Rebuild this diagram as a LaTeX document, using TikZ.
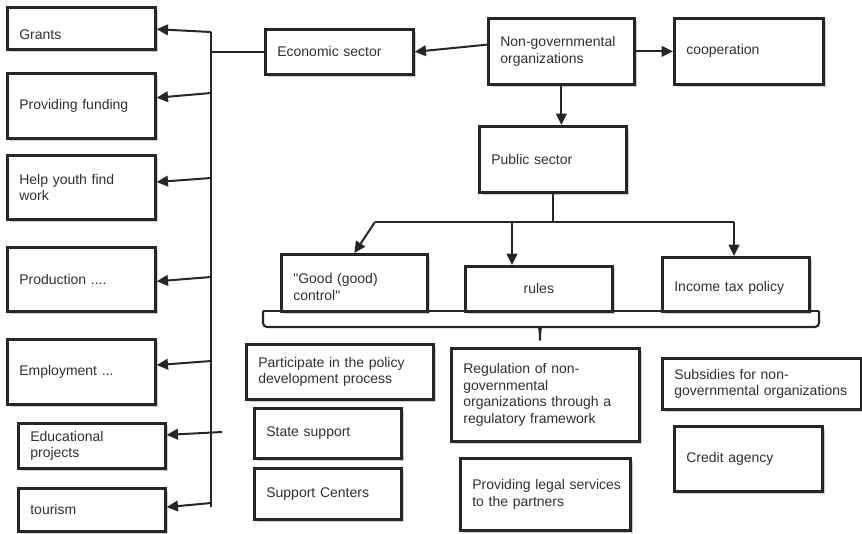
\documentclass[tikz,border=0pt]{standalone}
\usepackage{fontspec}
\setmainfont{Liberation Sans}
\usetikzlibrary{arrows.meta,shadows,calc}
\definecolor{ink}{HTML}{262626}
\definecolor{txt}{HTML}{303030}
\begin{document}
\begin{tikzpicture}[x=0.75pt,y=-0.75pt,
  box/.style={draw=ink, line width=2pt, fill=white, anchor=north west,
    inner xsep=9pt, inner ysep=2pt, align=left,
    font=\fontsize{10.5}{12.5}\selectfont, text=txt,
    drop shadow={shadow xshift=2pt, shadow yshift=-2pt, opacity=0.4}},
  arr/.style={draw=ink, line width=1.5pt, -{Triangle[length=8.5pt,width=8pt]}},
  ln/.style={draw=ink, line width=1.5pt}]
\useasboundingbox (0,0) rectangle (862,533);

% left column
\node[box, minimum width=111pt, minimum height=31.5pt, text width=93pt] (grants) at (6,6) {\raisebox{-4.5pt}[\height][\depth]{Grants}};
\node[box, minimum width=111pt, minimum height=48.75pt, text width=93pt] (funding) at (6,72) {Providing funding};
\node[box, minimum width=111pt, minimum height=48pt, text width=93pt] (youth) at (6,154) {Help youth find\\work};
\node[box, minimum width=111pt, minimum height=48pt, text width=93pt] (production) at (6,246) {Production ....};
\node[box, minimum width=111pt, minimum height=48.75pt, text width=93pt] (employment) at (6,338) {Employment ...};
\draw[ink, line width=1.5pt] (28,469) -- (85,469);
\node[box, minimum width=110.25pt, minimum height=33.75pt, text width=92.25pt] (educ) at (17,422) {Educational\\projects};
\node[box, minimum width=110.25pt, minimum height=32.25pt, text width=92.25pt] (tourism) at (17,487) {tourism};

% top row
\node[box, minimum width=111pt, minimum height=33.75pt, text width=93pt] (econ) at (264,28) {Economic sector};
\node[box, minimum width=109.5pt, minimum height=49.5pt, text width=91.5pt] (ngo) at (487,17) {Non-governmental\\organizations};
\node[box, minimum width=111.75pt, minimum height=49.5pt, text width=93.75pt] (coop) at (673,17) {cooperation};
\node[box, minimum width=110.25pt, minimum height=49.5pt, text width=92.25pt] (public) at (478,125) {Public sector};

% public sector branches
\node[box, minimum width=109.5pt, minimum height=42.75pt, text width=91.5pt] (good) at (280,253) {\raisebox{-3pt}[\height][\depth]{\parbox{91.5pt}{\textquotedbl Good (good)\\control\textquotedbl}}};
\node[box, minimum width=110.25pt, minimum height=33.75pt, text width=92.25pt, align=center] (rules) at (464,265) {rules};
\node[box, minimum width=110.25pt, minimum height=40.5pt, text width=92.25pt] (income) at (661,256) {\raisebox{-3pt}[\height][\depth]{Income tax policy}};

% brace
\draw[ln, line width=1.6pt] (263,311) -- (819,311);
\draw[ln, line width=1.6pt, rounded corners=3pt] (263,311) -- (263,327) -- (535,327)
  .. controls (539,327) and (540,331) .. (540,343)
  .. controls (540,331) and (541,327) .. (545,327) -- (819,327) -- (819,311);

% lower boxes
\node[box, minimum width=140.25pt, minimum height=41.25pt, text width=122.25pt] (particip) at (245,343) {Participate in the policy\\development process};
\node[box, minimum width=110.25pt, minimum height=37.5pt, text width=92.25pt] (state) at (253,407) {State support};
\node[box, minimum width=110.25pt, minimum height=38.25pt, text width=92.25pt] (centers) at (253,467) {Support Centers};
\node[box, minimum width=141pt, minimum height=69.75pt, text width=123pt] (regul) at (450,347) {Regulation of non-\\governmental\\\mbox{organizations through a}\\regulatory framework};
\node[box, minimum width=127.5pt, minimum height=54pt, text width=109.5pt] (legal) at (459,457) {\mbox{Providing legal services}\\to the partners};
\node[box, minimum width=149.25pt, minimum height=38.25pt, text width=131.25pt] (subsid) at (661,357) {Subsidies for non-\\\mbox{governmental organizations}};
\node[box, minimum width=111pt, minimum height=48.75pt, text width=93pt] (credit) at (673,425) {Credit agency};

% top connectors
\draw[arr] ([yshift=5pt]ngo.west) -- (econ.east);
\draw[arr] (ngo.east) -- (coop.west);
\draw[arr] (ngo.south) -- (ngo.south |- public.north);

% economic sector tree
\coordinate (vt) at (211,32);
\coordinate (vb) at (211,507);
\coordinate (s2) at (211,93);
\coordinate (s3) at (211,178);
\coordinate (s4) at (211,277);
\coordinate (s5) at (211,361);
\coordinate (s6) at (222,432);
\coordinate (s7) at (211,503);
\draw[ln] (vt) -- (vb);
\draw[ln] (econ.west) -- (econ.west -| vt);
\draw[arr] (vt) -- ($(grants.north east)!0.52!(grants.south east)$);
\draw[arr] (s2) -- ($(funding.north east)!0.38!(funding.south east)$);
\draw[arr] (s3) -- ($(youth.north east)!0.42!(youth.south east)$);
\draw[arr] (s4) -- ($(production.north east)!0.53!(production.south east)$);
\draw[arr] (s5) -- ($(employment.north east)!0.40!(employment.south east)$);
\draw[arr] (s6) -- ($(educ.north east)!0.27!(educ.south east)$);
\draw[arr] (s7) -- ($(tourism.north east)!0.44!(tourism.south east)$);

% public sector tree
\coordinate (hy) at (0,222);
\coordinate (hl) at (375,222);
\coordinate (hr) at (734,222);
\coordinate (rt) at (512,222);
\draw[ln] (public.south) -- (public.south |- hy);
\draw[ln] (hl) -- (hr);
\draw[arr] (hl) -- (good.north);
\draw[arr] (rt) -- (rt |- rules.north);
\draw[arr] (hr) -- (hr |- income.north);
\end{tikzpicture}
\end{document}
